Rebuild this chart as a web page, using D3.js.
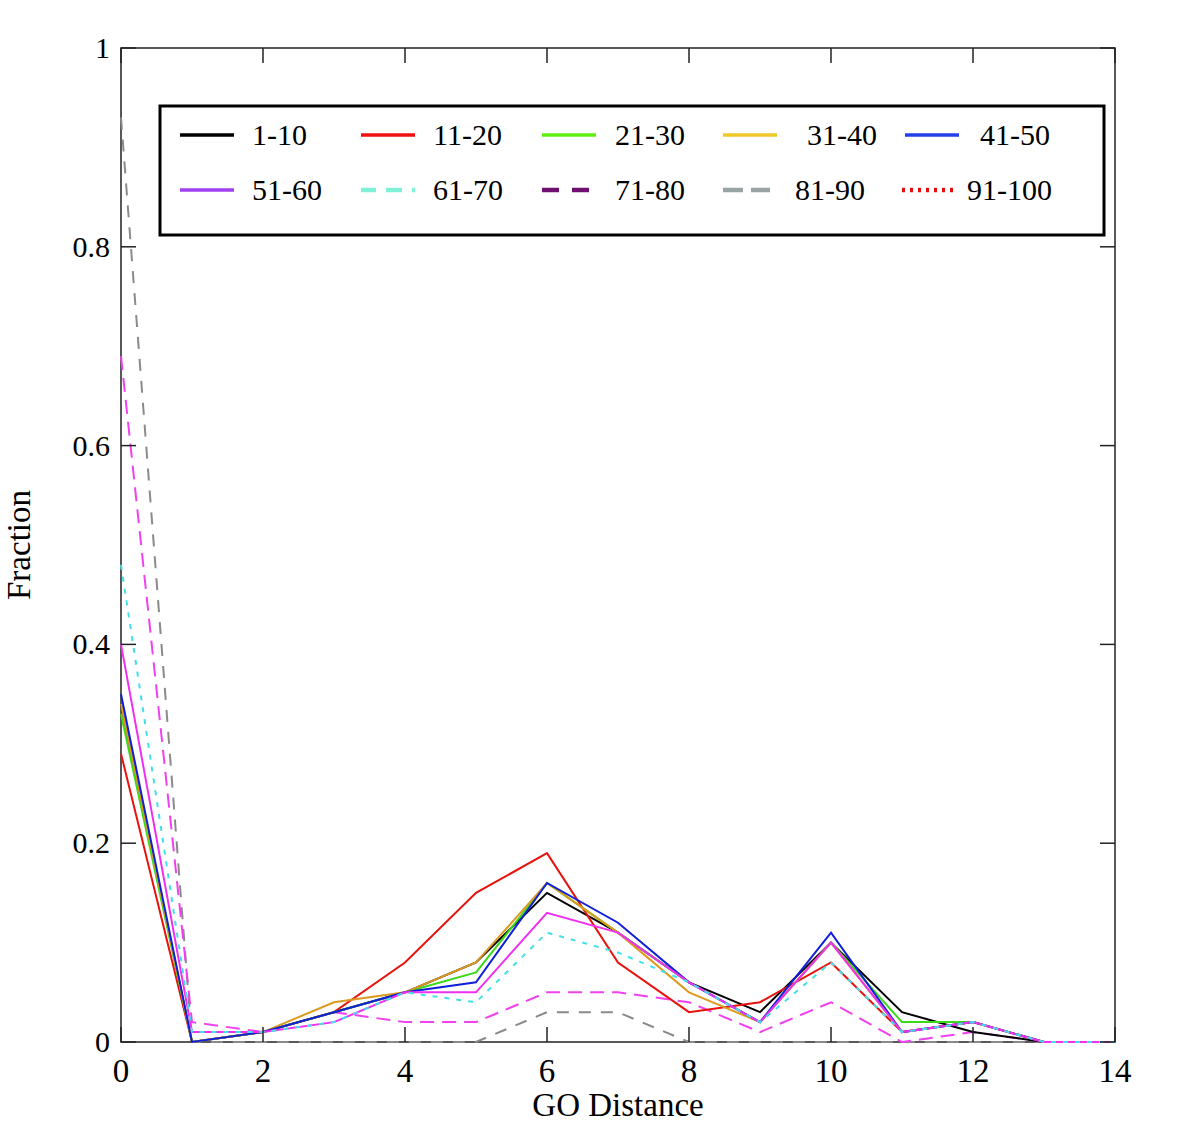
<!DOCTYPE html><html>
<head>
<meta charset="utf-8">
<script src="https://cdn.jsdelivr.net/npm/d3@7"></script>
<style>
body { margin: 0; background: #fff; }
.frame { fill: none; stroke: #222; stroke-width: 1.5px; }
.series { fill: none; stroke-width: 2px; }
</style>
</head>
<body>
<svg id="chart" width="1200" height="1147"></svg>
<script>
// GO distance 0..14
var distances = [0,1,2,3,4,5,6,7,8,9,10,11,12,13,14];
var seriesNames = ["1-10","11-20","21-30","31-40","41-50","51-60","61-70","71-80","81-90","91-100"];
// fraction per distance
var s1_10   = [0.34,0,0.01,0.03,0.05,0.08,0.15,0.11,0.06,0.03,0.10,0.03,0.01,0,0];
var s11_20  = [0.29,0,0.01,0.03,0.08,0.15,0.19,0.08,0.03,0.04,0.08,0.01,0.02,0,0];
var s21_30  = [0.33,0,0.01,0.03,0.05,0.07,0.16,0.11,0.06,0.02,0.10,0.02,0.02,0,0];
var s31_40  = [0.34,0,0.01,0.04,0.05,0.08,0.16,0.11,0.05,0.02,0.10,0.01,0.02,0,0];
var s41_50  = [0.35,0,0.01,0.03,0.05,0.06,0.16,0.12,0.06,0.02,0.11,0.01,0.02,0,0];
var s51_60  = [0.40,0.01,0.01,0.02,0.05,0.05,0.13,0.11,0.06,0.02,0.10,0.01,0.02,0,0];
var s61_70  = [0.48,0.01,0.01,0.02,0.05,0.04,0.11,0.09,0.06,0.02,0.08,0.01,0.02,0,0];
var s71_80  = [0.69,0.02,0.01,0.03,0.02,0.02,0.05,0.05,0.04,0.01,0.04,0,0.01,0,0];
var s81_90  = [0.93,0,0,0,0,0,0.03,0.03,0,0,0,0,0,0,0];
var s91_100 = [];
var allSeries = [s1_10,s11_20,s21_30,s31_40,s41_50,s51_60,s61_70,s71_80,s81_90,s91_100];

var lineColors   = ["#000000","#e8120c","#3cd81a","#dc9a20","#1020d8","#f030f0","#40e0e8","#f040f0","#8a8a8a","#e00000"];
var legendColors = ["#000000","#f01010","#60f010","#f0c828","#2040e8","#a040f0","#80f0d8","#701070","#98a4a4","#e01010"];
var dashes       = [null,null,null,null,null,null,"5,7","14,8","12,10","3,5"];
var legendDashes = [null,null,null,null,null,null,"15,10,16,10,3,100","17,13,17,100","20,8,20,100","3,5"];
var legendLen    = [54,54,54,54,54,54,54,47,47,55];
var xTicks = [0,2,4,6,8,10,12,14];
var yTicks = [0,0.2,0.4,0.6,0.8,1];
var FONT = "'Liberation Serif', 'Times New Roman', serif";

var svg = d3.select("#chart");
var x = d3.scaleLinear().domain([0,14]).range([121,1115]);
var y = d3.scaleLinear().domain([0,1]).range([1042,48]);

var plot = svg.append("g");
var line = d3.line().x((d,i) => x(distances[i])).y(d => y(d));

// frame first, data on top of the axis line
svg.append("rect").attr("class","frame")
    .attr("x",121).attr("y",48).attr("width",994).attr("height",994);

var order = [8,7,0,1,2,3,4,5,6,9];
order.forEach(function(k) {
    if (allSeries[k].length == 0) return;
    svg.append("path")
        .datum(allSeries[k])
        .attr("class","series")
        .attr("d", line)
        .style("stroke", lineColors[k])
        .style("stroke-dasharray", dashes[k]);
});

// inward ticks on all four sides
var tickLen = 15;
var tk = svg.append("g").style("stroke","#222").style("stroke-width","1.5px");
xTicks.forEach(function(t) {
    tk.append("line").attr("x1",x(t)).attr("x2",x(t)).attr("y1",1042).attr("y2",1042-tickLen);
    tk.append("line").attr("x1",x(t)).attr("x2",x(t)).attr("y1",48).attr("y2",48+tickLen);
});
yTicks.forEach(function(t) {
    tk.append("line").attr("x1",121).attr("x2",121+tickLen).attr("y1",y(t)).attr("y2",y(t));
    tk.append("line").attr("x1",1115).attr("x2",1115-tickLen).attr("y1",y(t)).attr("y2",y(t));
});

svg.append("g").selectAll("text").data(xTicks).enter().append("text")
    .attr("x", d => x(d)).attr("y", 1082)
    .attr("text-anchor","middle").attr("font-family",FONT).attr("font-size",33)
    .text(d => d);
svg.append("g").selectAll("text").data(yTicks).enter().append("text")
    .attr("x", 110).attr("y", d => y(d)+10)
    .attr("text-anchor","end").attr("font-family",FONT).attr("font-size",30)
    .text(d => d3.format("")(d));

svg.append("text").attr("x",618).attr("y",1116).attr("text-anchor","middle")
    .attr("font-family",FONT).attr("font-size",33).text("GO Distance");
svg.append("text").attr("transform","translate(30,545) rotate(-90)").attr("text-anchor","middle")
    .attr("font-family",FONT).attr("font-size",33).text("Fraction");

// legend
var lg = svg.append("g");
lg.append("rect").attr("x",160).attr("y",106).attr("width",944).attr("height",129)
    .style("fill","#fff").style("stroke","#000").style("stroke-width","3px");
var colX = [180,361,542,723,905];
var textX = [252,433,615,807,980];
var rowY = [135,190];
seriesNames.forEach(function(name,i) {
    var r = Math.floor(i/5), c = i%5;
    var lx = colX[c], tx = textX[c];
    if (i == 8) tx = 795;
    if (i == 9) { lx = 902; tx = 967; }
    lg.append("line").attr("x1",lx).attr("x2",lx+legendLen[i]).attr("y1",rowY[r]).attr("y2",rowY[r])
        .style("stroke",legendColors[i]).style("stroke-width", i >= 6 ? "4.5px" : "3.5px")
        .style("stroke-dasharray",legendDashes[i]);
    lg.append("text").attr("x",tx).attr("y",rowY[r]+10)
        .attr("font-family",FONT).attr("font-size",30).text(name);
});
</script>
</body>
</html>
